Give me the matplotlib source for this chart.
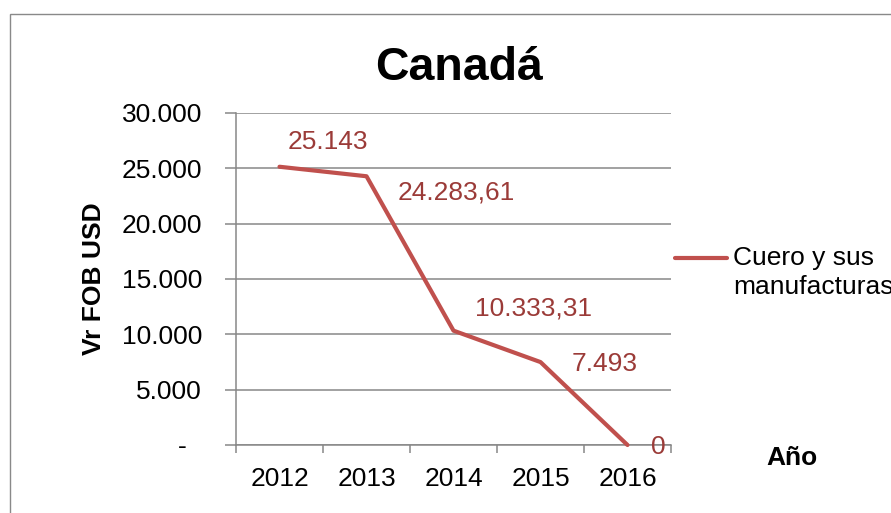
import matplotlib
matplotlib.use("Agg")
import matplotlib.pyplot as plt
from matplotlib.lines import Line2D
from matplotlib.patches import Rectangle
from matplotlib.ticker import FixedLocator

plt.rcParams['font.family'] = ['Liberation Sans', 'DejaVu Sans']

years = ['2012', '2013', '2014', '2015', '2016']
values = [25143, 24283.61, 10333.31, 7493, 0]
value_labels = ['25.143', '24.283,61', '10.333,31', '7.493', '0']
y_ticks = [0, 5000, 10000, 15000, 20000, 25000, 30000]
y_tick_labels = ['-  ', '5.000', '10.000', '15.000', '20.000', '25.000', '30.000']
series_name = ['Cuero y sus', 'manufacturas']

W, H = 891, 513
fig = plt.figure(figsize=(W / 100, H / 100), dpi=100)

def fx(px):
    return px / W

def fy(py):
    return 1 - py / H

ax = fig.add_axes([fx(236), fy(445), fx(671) - fx(236), fy(113) - fy(445)])

line_color = '#C0504D'
label_color = '#9B3B38'
grid_color = '#878787'
fs = 19

x = list(range(len(years)))
ax.plot(x, values, color=line_color, lw=3.0, solid_capstyle='round', clip_on=False, zorder=3)

ax.set_xlim(-0.5, len(years) - 0.5)
ax.set_ylim(0, 30000)

# y axis
ax.set_yticks(y_ticks)
ax.set_yticklabels(y_tick_labels)
ax.yaxis.grid(True, color=grid_color, lw=1.1)
ax.set_axisbelow(True)
ax.tick_params(axis='y', which='major', direction='out', length=8, width=1.1,
               color=grid_color, labelsize=fs, pad=16.5)

# x axis: ticks at category boundaries, labels at centers
ax.xaxis.set_major_locator(FixedLocator([i - 0.5 for i in range(len(years) + 1)]))
ax.xaxis.set_minor_locator(FixedLocator(x))
ax.xaxis.set_major_formatter(plt.NullFormatter())
ax.set_xticks(x, minor=True)
ax.set_xticklabels(years, minor=True)
ax.tick_params(axis='x', which='major', direction='out', length=6, width=1.1, color=grid_color)
ax.tick_params(axis='x', which='minor', length=0, labelsize=fs, pad=16)

for s in ['top', 'right']:
    ax.spines[s].set_visible(False)
for s in ['left', 'bottom']:
    ax.spines[s].set_color(grid_color)
    ax.spines[s].set_linewidth(1.1)

# data labels
offsets = [(8.5, 25), (31.5, -16), (21.5, 22), (31.5, -2), (23.5, -2)]
for xi, v, lab, off in zip(x, values, value_labels, offsets):
    ax.annotate(lab, (xi, v), xytext=off, textcoords='offset pixels',
                ha='left', va='center', color=label_color, fontsize=fs,
                annotation_clip=False)

# title & axis titles
fig.text(fx(459), fy(80), 'Canadá', ha='center', va='baseline',
         fontsize=33.5, fontweight='bold')
fig.text(fx(94), fy(279), 'Vr FOB USD', ha='center', va='center', rotation=90,
         fontsize=fs, fontweight='bold')
fig.text(fx(792), fy(458), 'Año', ha='center', va='center',
         fontsize=fs, fontweight='bold')

# legend
fig.add_artist(Line2D([fx(675), fx(727)], [fy(258), fy(258)], color=line_color,
                      lw=3.0, solid_capstyle='round'))
fig.text(fx(733), fy(258), series_name[0], ha='left', va='center', fontsize=fs)
fig.text(fx(733), fy(287), series_name[1], ha='left', va='center', fontsize=fs)

# outer chart frame
fig.add_artist(Rectangle((fx(9.5), fy(W)), fx(W * 2), fy(14) - fy(W), fill=False,
                         edgecolor='#898989', lw=1.0, transform=fig.transFigure))

fig.savefig('out.png', dpi=100)
